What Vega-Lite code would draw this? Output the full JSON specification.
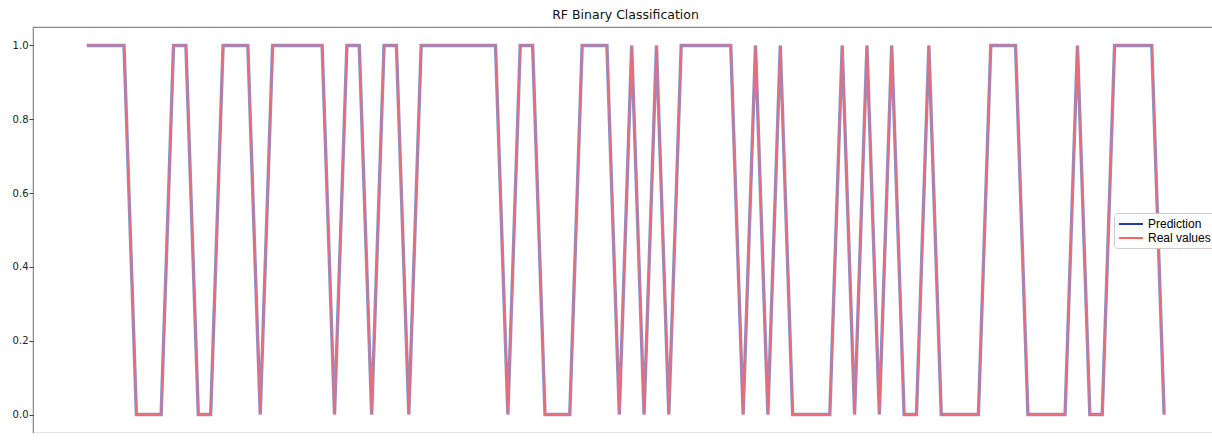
{
  "$schema": "https://vega.github.io/schema/vega-lite/v6.json",
  "width": 1185,
  "height": 406,
  "autosize": {"type": "none"},
  "padding": {"left": 33, "top": 27, "right": 0, "bottom": 0},
  "title": {"text": "RF Binary Classification", "font": "DejaVu Sans", "fontSize": 12.5, "fontWeight": "normal", "color": "#111", "offset": 6, "anchor": "middle"},
  "config": {
    "view": {"stroke": "#8a8a8a", "strokeWidth": 1.2},
    "axis": {"grid": false, "domain": false, "labelFont": "DejaVu Sans", "labelFontSize": 10, "labelColor": "#222", "tickColor": "#444", "tickSize": 4, "labelPadding": 1, "title": null}
  },
  "data": {"values": [
    {"i":0,"Prediction":1,"Real values":1},{"i":1,"Prediction":1,"Real values":1},{"i":2,"Prediction":1,"Real values":1},{"i":3,"Prediction":1,"Real values":1},
    {"i":4,"Prediction":0,"Real values":0},{"i":5,"Prediction":0,"Real values":0},{"i":6,"Prediction":0,"Real values":0},
    {"i":7,"Prediction":1,"Real values":1},{"i":8,"Prediction":1,"Real values":1},
    {"i":9,"Prediction":0,"Real values":0},{"i":10,"Prediction":0,"Real values":0},
    {"i":11,"Prediction":1,"Real values":1},{"i":12,"Prediction":1,"Real values":1},{"i":13,"Prediction":1,"Real values":1},
    {"i":14,"Prediction":0,"Real values":0},
    {"i":15,"Prediction":1,"Real values":1},{"i":16,"Prediction":1,"Real values":1},{"i":17,"Prediction":1,"Real values":1},{"i":18,"Prediction":1,"Real values":1},{"i":19,"Prediction":1,"Real values":1},
    {"i":20,"Prediction":0,"Real values":0},
    {"i":21,"Prediction":1,"Real values":1},{"i":22,"Prediction":1,"Real values":1},
    {"i":23,"Prediction":0,"Real values":0},
    {"i":24,"Prediction":1,"Real values":1},{"i":25,"Prediction":1,"Real values":1},
    {"i":26,"Prediction":0,"Real values":0},
    {"i":27,"Prediction":1,"Real values":1},{"i":28,"Prediction":1,"Real values":1},{"i":29,"Prediction":1,"Real values":1},{"i":30,"Prediction":1,"Real values":1},{"i":31,"Prediction":1,"Real values":1},{"i":32,"Prediction":1,"Real values":1},{"i":33,"Prediction":1,"Real values":1},
    {"i":34,"Prediction":0,"Real values":0},
    {"i":35,"Prediction":1,"Real values":1},{"i":36,"Prediction":1,"Real values":1},
    {"i":37,"Prediction":0,"Real values":0},{"i":38,"Prediction":0,"Real values":0},{"i":39,"Prediction":0,"Real values":0},
    {"i":40,"Prediction":1,"Real values":1},{"i":41,"Prediction":1,"Real values":1},{"i":42,"Prediction":1,"Real values":1},
    {"i":43,"Prediction":0,"Real values":0},
    {"i":44,"Prediction":1,"Real values":1},
    {"i":45,"Prediction":0,"Real values":0},
    {"i":46,"Prediction":1,"Real values":1},
    {"i":47,"Prediction":0,"Real values":0},
    {"i":48,"Prediction":1,"Real values":1},{"i":49,"Prediction":1,"Real values":1},{"i":50,"Prediction":1,"Real values":1},{"i":51,"Prediction":1,"Real values":1},{"i":52,"Prediction":1,"Real values":1},
    {"i":53,"Prediction":0,"Real values":0},
    {"i":54,"Prediction":1,"Real values":1},
    {"i":55,"Prediction":0,"Real values":0},
    {"i":56,"Prediction":1,"Real values":1},
    {"i":57,"Prediction":0,"Real values":0},{"i":58,"Prediction":0,"Real values":0},{"i":59,"Prediction":0,"Real values":0},{"i":60,"Prediction":0,"Real values":0},
    {"i":61,"Prediction":1,"Real values":1},
    {"i":62,"Prediction":0,"Real values":0},
    {"i":63,"Prediction":1,"Real values":1},
    {"i":64,"Prediction":0,"Real values":0},
    {"i":65,"Prediction":1,"Real values":1},
    {"i":66,"Prediction":0,"Real values":0},{"i":67,"Prediction":0,"Real values":0},
    {"i":68,"Prediction":1,"Real values":1},
    {"i":69,"Prediction":0,"Real values":0},{"i":70,"Prediction":0,"Real values":0},{"i":71,"Prediction":0,"Real values":0},{"i":72,"Prediction":0,"Real values":0},
    {"i":73,"Prediction":1,"Real values":1},{"i":74,"Prediction":1,"Real values":1},{"i":75,"Prediction":1,"Real values":1},
    {"i":76,"Prediction":0,"Real values":0},{"i":77,"Prediction":0,"Real values":0},{"i":78,"Prediction":0,"Real values":0},{"i":79,"Prediction":0,"Real values":0},
    {"i":80,"Prediction":1,"Real values":1},
    {"i":81,"Prediction":0,"Real values":0},{"i":82,"Prediction":0,"Real values":0},
    {"i":83,"Prediction":1,"Real values":1},{"i":84,"Prediction":1,"Real values":1},{"i":85,"Prediction":1,"Real values":1},{"i":86,"Prediction":1,"Real values":1},
    {"i":87,"Prediction":0,"Real values":0}
  ]},
  "transform": [{"fold": ["Prediction", "Real values"], "as": ["series", "value"]}],
  "encoding": {
    "x": {"field": "i", "type": "quantitative", "scale": {"domain": [-4.35, 91.35], "nice": false, "zero": false}, "axis": {"values": [0, 20, 40, 60, 80], "format": "d"}},
    "y": {"field": "value", "type": "quantitative", "scale": {"domain": [-0.05, 1.05], "nice": false}, "axis": {"values": [0, 0.2, 0.4, 0.6, 0.8, 1.0], "format": ".1f"}},
    "color": {"field": "series", "type": "nominal", "scale": {"domain": ["Prediction", "Real values"], "range": ["#1f3cb0", "#ff6464"]},
      "legend": {"title": null, "orient": "none", "legendX": 1081, "legendY": 186, "fillColor": "white", "strokeColor": "#cccccc", "cornerRadius": 3, "padding": 4, "symbolType": "M-1,0L3,0", "symbolSize": 144, "symbolStrokeWidth": 2, "symbolOpacity": 1, "labelFont": "Liberation Sans", "labelFontSize": 12, "labelColor": "#000", "rowPadding": 1, "labelOffset": 16}}
  },
  "layer": [
    {"transform": [{"filter": "datum.series === 'Prediction'"}], "mark": {"type": "line", "strokeWidth": 3.4, "opacity": 0.55}},
    {"transform": [{"filter": "datum.series === 'Real values'"}], "mark": {"type": "line", "strokeWidth": 1.8, "opacity": 0.85}}
  ]
}
